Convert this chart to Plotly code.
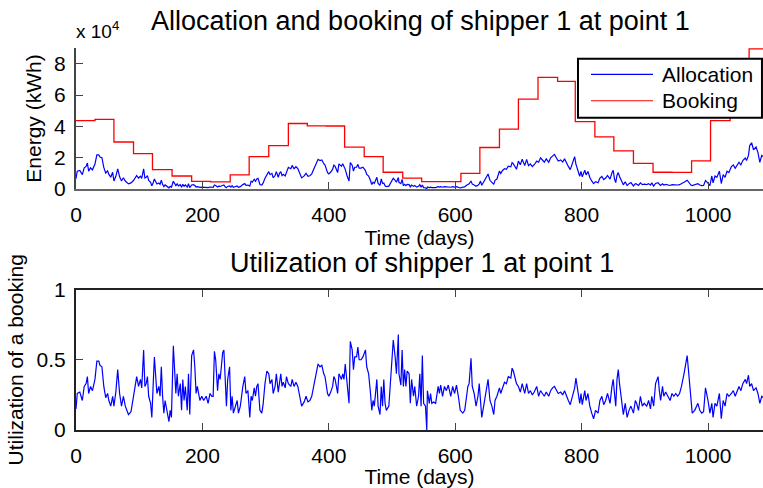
import numpy as np
import plotly.graph_objects as go

# Booked capacity (kWh): first day of each booking period and its level
booking_start = [0, 30, 60, 91, 121, 152, 183, 213, 244, 274,
                 305, 336, 366, 396, 425, 456, 486, 517, 547, 578,
                 609, 639, 670, 700, 731, 762, 790, 821, 851, 882,
                 913, 943, 974, 1004, 1035, 1065]
booking_kwh = [43700, 44400, 30000, 22600, 12400, 8300, 4900, 4500, 9000, 20700,
               27700, 41800, 40300, 40200, 26700, 20700, 10700, 7000, 4700, 4700,
               10000, 26500, 38200, 57400, 71200, 68700, 43000, 33300, 24300, 16400,
               10700, 10600, 17900, 43700, 55000, 89400]
booking_end = 1095

# Utilization of the booking (allocation / booking) over time
util_day = [0, 2, 6, 10, 13, 16, 18, 20, 23, 26,
            30, 33, 36, 38, 41, 44, 47, 50, 52, 55,
            58, 60, 63, 66, 69, 72, 75, 78, 83, 87,
            91, 93, 96, 99, 102, 104, 107, 109, 111, 113,
            115, 118, 120, 122, 124, 128, 131, 133, 135, 137,
            139, 141, 144, 147, 149, 151, 154, 156, 158, 160,
            162, 165, 167, 169, 171, 173, 176, 178, 180, 183,
            186, 188, 190, 192, 194, 196, 199, 202, 206, 209,
            212, 215, 217, 219, 221, 224, 226, 228, 230, 232,
            234, 236, 238, 240, 243, 245, 247, 249, 252, 255,
            257, 260, 264, 267, 269, 272, 275, 277, 279, 282,
            284, 286, 288, 291, 294, 296, 299, 302, 305, 307,
            310, 312, 315, 317, 320, 322, 324, 326, 328, 331,
            333, 336, 340, 342, 345, 348, 351, 354, 357, 361,
            364, 367, 370, 373, 376, 380, 383, 386, 389, 392,
            394, 398, 400, 403, 406, 408, 410, 412, 414, 416,
            420, 422, 424, 426, 429, 432, 434, 437, 439, 441,
            444, 446, 448, 451, 454, 458, 460, 463, 466, 468,
            470, 472, 476, 478, 481, 483, 485, 487, 489, 491,
            495, 498, 500, 502, 505, 507, 510, 511, 514, 516,
            518, 520, 522, 524, 527, 529, 531, 534, 536, 539,
            542, 544, 546, 548, 550, 553, 555, 556, 559, 561,
            563, 566, 569, 573, 575, 577, 580, 583, 586, 589,
            593, 596, 599, 602, 605, 608, 612, 615, 618, 620,
            622, 625, 627, 630, 633, 636, 638, 640, 642, 645,
            649, 652, 655, 658, 661, 663, 666, 670, 672, 675,
            678, 681, 684, 688, 690, 692, 695, 697, 700, 703,
            706, 710, 713, 716, 719, 722, 725, 729, 732, 735,
            738, 741, 744, 748, 751, 754, 757, 760, 763, 767,
            770, 773, 776, 779, 782, 786, 789, 791, 793, 795,
            797, 799, 801, 805, 807, 810, 813, 816, 819, 822,
            826, 829, 832, 835, 838, 841, 845, 848, 850, 852,
            854, 856, 858, 860, 863, 866, 869, 872, 875, 878,
            882, 885, 887, 890, 893, 896, 899, 903, 906, 909,
            911, 914, 917, 921, 923, 925, 928, 930, 933, 936,
            940, 943, 946, 949, 952, 955, 958, 962, 964, 967,
            969, 971, 973, 975, 979, 982, 984, 987, 990, 993,
            996, 1000, 1003, 1006, 1008, 1011, 1014, 1018, 1021, 1024,
            1027, 1030, 1033, 1037, 1040, 1043, 1046, 1049, 1052, 1055,
            1059, 1061, 1064, 1066, 1069, 1072, 1076, 1079, 1082, 1085,
            1090]
utilization = [.15, .26, .27, .21, .31, .33, .38, .26, .31, .28,
               .36, .49, .49, .46, .45, .31, .23, .26, .21, .17,
               .24, .17, .27, .43, .26, .17, .24, .17, .11, .13,
               .24, .31, .38, .31, .36, .30, .57, .31, .33, .38,
               .24, .19, .09, .31, .52, .26, .31, .24, .45, .24,
               .12, .21, .14, .06, .14, .09, .60, .36, .26, .40,
               .24, .33, .14, .36, .21, .31, .14, .40, .11, .53,
               .57, .45, .26, .31, .24, .21, .24, .21, .24, .19,
               .26, .24, .24, .56, .50, .28, .40, .36, .45, .55,
               .57, .31, .17, .36, .45, .14, .24, .12, .17, .21,
               .12, .17, .31, .38, .26, .28, .09, .24, .21, .30,
               .24, .31, .33, .14, .12, .18, .33, .42, .40, .33,
               .36, .26, .31, .40, .27, .36, .40, .31, .34, .30,
               .38, .33, .31, .36, .31, .34, .31, .24, .17, .20,
               .24, .20, .21, .24, .31, .40, .47, .45, .46, .40,
               .38, .26, .24, .27, .31, .38, .36, .31, .26, .40,
               .36, .40, .36, .47, .31, .19, .63, .57, .43, .52,
               .52, .59, .50, .50, .52, .57, .45, .40, .26, .14,
               .21, .17, .36, .17, .11, .31, .17, .36, .19, .14,
               .17, .40, .53, .64, .52, .40, .68, .40, .32, .57,
               .31, .43, .31, .42, .40, .19, .36, .24, .31, .17,
               .24, .40, .17, .53, .19, .17, .00, .28, .19, .26,
               .19, .20, .19, .31, .26, .32, .24, .31, .28, .32,
               .24, .31, .26, .32, .24, .14, .12, .14, .24, .31,
               .33, .51, .31, .26, .17, .24, .33, .19, .09, .17,
               .28, .36, .21, .17, .11, .21, .24, .30, .26, .31,
               .34, .33, .38, .37, .44, .42, .36, .33, .31, .27,
               .33, .26, .33, .26, .28, .25, .27, .31, .24, .28,
               .26, .24, .27, .24, .28, .30, .31, .28, .26, .27,
               .25, .28, .24, .21, .18, .24, .30, .37, .31, .26,
               .19, .26, .18, .28, .21, .26, .17, .12, .08, .14,
               .12, .21, .24, .18, .21, .26, .19, .31, .36, .26,
               .17, .36, .43, .33, .21, .11, .19, .09, .14, .17,
               .12, .21, .19, .14, .24, .17, .19, .17, .21, .15,
               .24, .17, .33, .38, .28, .21, .31, .24, .27, .24,
               .21, .26, .24, .26, .24, .26, .31, .40, .45, .53,
               .43, .31, .24, .12, .14, .17, .19, .14, .12, .13,
               .30, .21, .12, .19, .09, .19, .17, .26, .08, .21,
               .17, .26, .24, .26, .28, .24, .27, .31, .28, .33,
               .36, .33, .39, .31, .33, .28, .30, .26, .19, .24,
               .22]

x_ticks = [0, 200, 400, 600, 800, 1000]
energy_ticks = [0, 20000, 40000, 60000, 80000]
energy_tick_text = ["0", "2", "4", "6", "8"]
util_ticks = [0, 0.5, 1]
util_tick_text = ["0", "0.5", "1"]

# Allocated energy = utilization x booked capacity valid on that day
starts = np.array(booking_start)
levels = np.array(booking_kwh)
days = np.array(util_day)
booked_on_day = levels[np.searchsorted(starts, days, side="right") - 1]
allocation_kwh = np.array(utilization) * booked_on_day

FONT = "Liberation Sans, Arial, Helvetica, sans-serif"
W, H = 763, 488
ML, MR, MT, MB = 76, 0, 48, 58
plot_h = H - MT - MB


def py_to_paper(py):
    return (H - MB - py) / plot_h


def px_to_paper(px):
    return (px - ML) / (W - ML - MR)


fig = go.Figure()
fig.add_trace(go.Scatter(x=util_day, y=allocation_kwh, mode="lines", name="Allocation",
                         line=dict(color="#0000ff", width=1.2), xaxis="x", yaxis="y",
                         showlegend=False))
fig.add_trace(go.Scatter(x=booking_start + [booking_end], y=booking_kwh + [booking_kwh[-1]],
                         mode="lines", name="Booking", line_shape="hv",
                         line=dict(color="#ff0000", width=1.3), xaxis="x", yaxis="y",
                         showlegend=False))
fig.add_trace(go.Scatter(x=util_day, y=utilization, mode="lines", name="Utilization",
                         line=dict(color="#0000ff", width=1.2), xaxis="x2", yaxis="y2",
                         showlegend=False))

axis_common = dict(showgrid=False, zeroline=False, showline=True, linewidth=2,
                   ticks="inside", ticklen=7, tickwidth=1.2,
                   tickfont=dict(family=FONT, size=21, color="#000"))

top_domain = [py_to_paper(189), 1.0]
bottom_domain = [0.0, py_to_paper(289.5)]

fig.update_layout(
    width=W, height=H,
    margin=dict(l=ML, r=MR, t=MT, b=MB, pad=0),
    paper_bgcolor="white", plot_bgcolor="white",
    font=dict(family=FONT, size=21, color="#000"),
    xaxis=dict(axis_common, range=[0, 1087], tickvals=x_ticks, anchor="y",
               linecolor="#666", tickcolor="#444", ticklabelstandoff=6,
               title=dict(text="Time (days)", font=dict(size=21), standoff=2)),
    yaxis=dict(axis_common, domain=top_domain, range=[0, 90000], tickvals=energy_ticks,
               ticktext=energy_tick_text, anchor="x", linecolor="#444", tickcolor="#444",
               ticklabelstandoff=4,
               title=dict(text="Energy (kWh)", font=dict(size=21), standoff=7)),
    xaxis2=dict(axis_common, range=[0, 1087], tickvals=x_ticks, anchor="y2",
                mirror="ticks", linecolor="#222", tickcolor="#444", ticklabelstandoff=6,
                title=dict(text="Time (days)", font=dict(size=21), standoff=2)),
    yaxis2=dict(axis_common, domain=bottom_domain, range=[0, 1], tickvals=util_ticks,
                ticktext=util_tick_text, anchor="x2", linecolor="#222", tickcolor="#444",
                ticklabelstandoff=4,
                title=dict(text="Utilization of a booking", font=dict(size=21), standoff=7)),
)

annotations = [
    dict(text="Allocation and booking of shipper 1 at point 1", xref="paper", yref="paper",
         x=px_to_paper(421), y=py_to_paper(21), xanchor="center", yanchor="middle",
         showarrow=False, font=dict(size=27)),
    dict(text="Utilization of shipper 1 at point 1", xref="paper", yref="paper",
         x=px_to_paper(422), y=py_to_paper(263), xanchor="center", yanchor="middle",
         showarrow=False, font=dict(size=27)),
    dict(text="x 10<sup>4</sup>", xref="paper", yref="paper",
         x=px_to_paper(74), y=py_to_paper(44), xanchor="left", yanchor="bottom",
         showarrow=False, font=dict(size=19)),
]

# Legend box for the upper panel
lg_x0, lg_x1 = 0.7307, 0.9985
lg_y0, lg_y1 = 0.505, 0.9246
sample_x0, sample_x1 = 0.7496, 0.8399
label_x = 0.8501
entries = [("Allocation", "#0000ff", 0.813), ("Booking", "#ff0000", 0.626)]

shapes = [dict(type="rect", xref="x domain", yref="y domain", x0=lg_x0, x1=lg_x1,
               y0=lg_y0, y1=lg_y1, line=dict(color="#000", width=2),
               fillcolor="white", layer="above")]
for label, color, ypos in entries:
    shapes.append(dict(type="line", xref="x domain", yref="y domain", x0=sample_x0,
                       x1=sample_x1, y0=ypos, y1=ypos, line=dict(color=color, width=1.2),
                       layer="above"))
    annotations.append(dict(text=label, xref="x domain", yref="y domain", x=label_x, y=ypos,
                            xanchor="left", yanchor="middle", showarrow=False,
                            font=dict(size=21)))

fig.update_layout(annotations=annotations, shapes=shapes)
fig.write_html("out.html")
